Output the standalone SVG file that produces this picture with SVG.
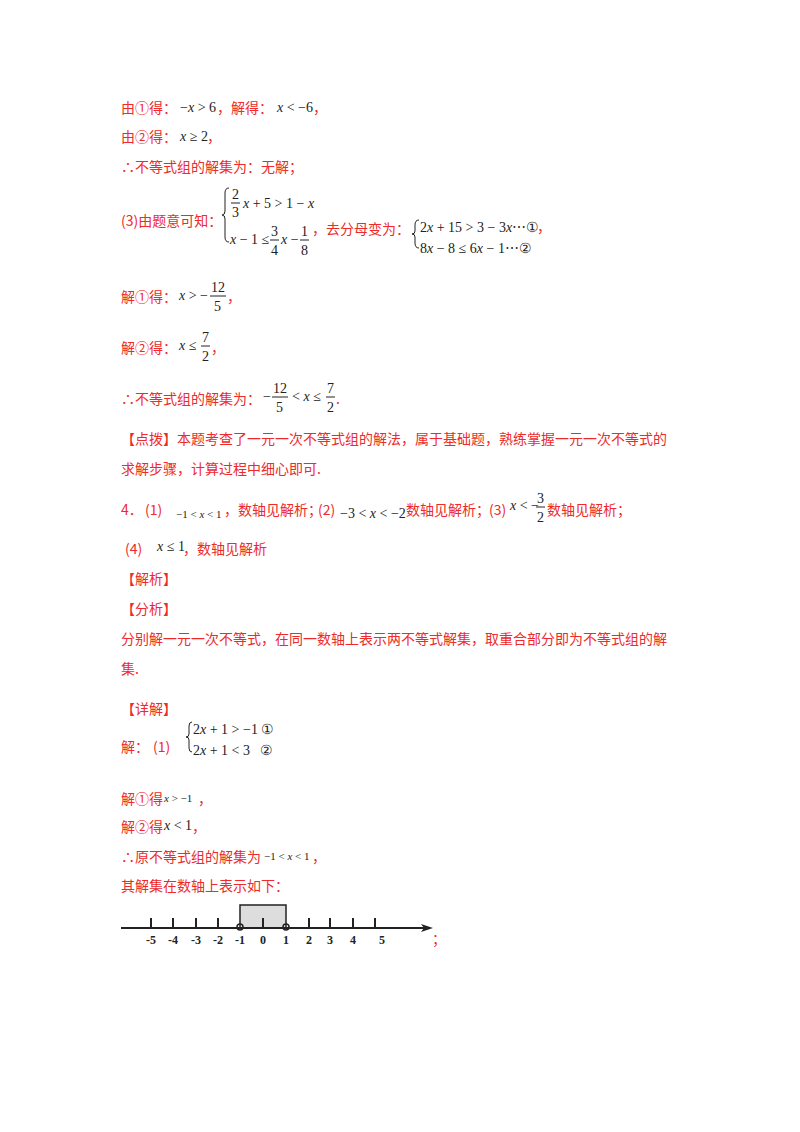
<svg xmlns="http://www.w3.org/2000/svg" width="800" height="1132" viewBox="0 0 800 1132">
<style>
.r{font-family:"Noto Sans CJK SC",sans-serif;font-size:14px;fill:#ee2a2a}
.m{font-family:"Liberation Serif",serif;font-size:14px;fill:#222}
.i{font-style:italic}
.s{font-family:"Liberation Serif",serif;font-size:11px;fill:#222}
.b{fill:none;stroke:#222;stroke-width:1}
.n{font-family:"Liberation Serif",serif;font-size:12px;font-weight:bold;fill:#222;text-anchor:middle}
</style>
<rect width="800" height="1132" fill="#fff"/>
<text class="r" x="121" y="113">由①得：</text>
<text class="m" x="180" y="112">−<tspan class="i">x</tspan> &gt; 6</text>
<text class="r" x="217" y="113">，解得：</text>
<text class="m" x="277" y="112"><tspan class="i">x</tspan> &lt; −6</text>
<text class="r" x="313" y="113">，</text>
<text class="r" x="121" y="142">由②得：</text>
<text class="m" x="180" y="141"><tspan class="i">x</tspan> ≥ 2</text>
<text class="r" x="207" y="142">，</text>
<text class="r" x="121" y="172">∴不等式组的解集为：无解；</text>
<text class="r" x="121" y="226">(3)由题意可知：</text>
<path class="b" d="M229,188 q-4,0 -4,5 v18 q0,4 -3,4 q3,0 3,4 v18 q0,5 4,5"/>
<text class="m" x="232" y="199">2</text><line x1="231" y1="203" x2="240" y2="203" stroke="#222"/><text class="m" x="232" y="217">3</text>
<text class="m" x="243" y="208"><tspan class="i">x</tspan> + 5 &gt; 1 − <tspan class="i">x</tspan></text>
<text class="m" x="230" y="244"><tspan class="i">x</tspan> − 1 ≤</text>
<text class="m" x="271" y="236">3</text><line x1="270" y1="240" x2="279" y2="240" stroke="#222"/><text class="m" x="271" y="255">4</text>
<text class="m" x="281" y="244"><tspan class="i">x</tspan> −</text>
<text class="m" x="301" y="236">1</text><line x1="300" y1="240" x2="309" y2="240" stroke="#222"/><text class="m" x="301" y="255">8</text>
<text class="r" x="312" y="234">，去分母变为：</text>
<path class="b" d="M419,220 q-4,0 -4,5 v6 q0,3 -3,3 q3,0 3,3 v6 q0,5 4,5"/>
<text class="m" x="420" y="232">2<tspan class="i">x</tspan> + 15 &gt; 3 − 3<tspan class="i">x</tspan>⋯①</text>
<text class="r" x="537" y="232">，</text>
<text class="m" x="420" y="253">8<tspan class="i">x</tspan> − 8 ≤ 6<tspan class="i">x</tspan> − 1⋯②</text>
<text class="r" x="121" y="302">解①得：</text>
<text class="m" x="179" y="300"><tspan class="i">x</tspan> &gt; −</text>
<text class="m" x="211" y="292">12</text><line x1="210" y1="296" x2="226" y2="296" stroke="#222"/><text class="m" x="214" y="311">5</text>
<text class="r" x="227" y="302">，</text>
<text class="r" x="121" y="353">解②得：</text>
<text class="m" x="179" y="350"><tspan class="i">x</tspan> ≤</text>
<text class="m" x="202" y="342">7</text><line x1="201" y1="346" x2="210" y2="346" stroke="#222"/><text class="m" x="202" y="361">2</text>
<text class="r" x="211" y="353">，</text>
<text class="r" x="121" y="404">∴不等式组的解集为：</text>
<text class="m" x="263" y="401">−</text>
<text class="m" x="273" y="393">12</text><line x1="272" y1="397" x2="288" y2="397" stroke="#222"/><text class="m" x="276" y="412">5</text>
<text class="m" x="292" y="401">&lt; <tspan class="i">x</tspan> ≤</text>
<text class="m" x="327" y="393">7</text><line x1="326" y1="397" x2="335" y2="397" stroke="#222"/><text class="m" x="327" y="412">2</text>
<text class="r" x="336" y="404">.</text>
<text class="r" x="121" y="444">【点拨】本题考查了一元一次不等式组的解法，属于基础题，熟练掌握一元一次不等式的</text>
<text class="r" x="121" y="474">求解步骤，计算过程中细心即可.</text>
<text class="r" x="121" y="515">4．</text>
<text class="r" x="145" y="515">(1)</text>
<text class="s" x="176" y="518">−1 &lt; <tspan class="i">x</tspan> &lt; 1</text>
<text class="r" x="224" y="515">，数轴见解析；</text>
<text class="r" x="318" y="515">(2)</text>
<text class="m" x="340" y="518">−3 &lt; <tspan class="i">x</tspan> &lt; −2</text>
<text class="r" x="406" y="515">数轴见解析；</text>
<text class="r" x="489" y="515">(3)</text>
<text class="m" x="510" y="510"><tspan class="i">x</tspan> &lt; −</text>
<text class="m" x="537" y="503">3</text><line x1="536" y1="507" x2="545" y2="507" stroke="#222"/><text class="m" x="537" y="522">2</text>
<text class="r" x="547" y="515">数轴见解析；</text>
<text class="r" x="125" y="554">(4)</text>
<text class="m" x="157" y="551"><tspan class="i">x</tspan> ≤ 1</text>
<text class="r" x="183" y="554">，数轴见解析</text>
<text class="r" x="121" y="584">【解析】</text>
<text class="r" x="121" y="614">【分析】</text>
<text class="r" x="121" y="644">分别解一元一次不等式，在同一数轴上表示两不等式解集，取重合部分即为不等式组的解</text>
<text class="r" x="121" y="674">集.</text>
<text class="r" x="121" y="714">【详解】</text>
<text class="r" x="121" y="752">解：</text>
<text class="r" x="153" y="752">(1)</text>
<path class="b" d="M192,722 q-3,0 -3,4 v8 q0,3 -3,3 q3,0 3,3 v8 q0,4 3,4"/>
<text class="m" x="193" y="734">2<tspan class="i">x</tspan> + 1 &gt; −1 ①</text>
<text class="m" x="193" y="755">2<tspan class="i">x</tspan> + 1 &lt; 3 <tspan dx="6">②</tspan></text>
<text class="r" x="121" y="804">解①得</text>
<text class="s" x="164" y="802"><tspan class="i">x</tspan> &gt; −1</text>
<text class="r" x="198" y="804">，</text>
<text class="r" x="121" y="832">解②得</text>
<text class="m" x="164" y="830"><tspan class="i">x</tspan> &lt; 1</text>
<text class="r" x="192" y="832">，</text>
<text class="r" x="121" y="862">∴原不等式组的解集为</text>
<text class="s" x="264" y="860">−1 &lt; <tspan class="i">x</tspan> &lt; 1</text>
<text class="r" x="312" y="862">，</text>
<text class="r" x="121" y="891">其解集在数轴上表示如下：</text>
<g id="axis">
<rect x="240" y="905" width="46" height="23" fill="#ddd" stroke="#222" stroke-width="1.5"/>
<line x1="121" y1="928" x2="430" y2="928" stroke="#222" stroke-width="2"/>
<path d="M433,928 l-12,-4 l3,4 l-3,4z" fill="#222"/>
<g stroke="#222" stroke-width="2">
<line x1="151" y1="918" x2="151" y2="928"/><line x1="173" y1="918" x2="173" y2="928"/><line x1="196" y1="918" x2="196" y2="928"/><line x1="218" y1="918" x2="218" y2="928"/><line x1="263" y1="918" x2="263" y2="928"/><line x1="309" y1="918" x2="309" y2="928"/><line x1="330" y1="918" x2="330" y2="928"/><line x1="353" y1="918" x2="353" y2="928"/><line x1="375" y1="918" x2="375" y2="928"/>
</g>
<circle cx="240" cy="927" r="3" fill="none" stroke="#222" stroke-width="1.5"/>
<circle cx="286" cy="927" r="3" fill="none" stroke="#222" stroke-width="1.5"/>
<text class="n" x="151" y="944">-5</text><text class="n" x="173" y="944">-4</text><text class="n" x="196" y="944">-3</text><text class="n" x="218" y="944">-2</text><text class="n" x="240" y="944">-1</text><text class="n" x="263" y="944">0</text><text class="n" x="286" y="944">1</text><text class="n" x="309" y="944">2</text><text class="n" x="330" y="944">3</text><text class="n" x="353" y="944">4</text><text class="n" x="382" y="944">5</text>
</g>
<text class="r" x="432" y="944">；</text>
</svg>
